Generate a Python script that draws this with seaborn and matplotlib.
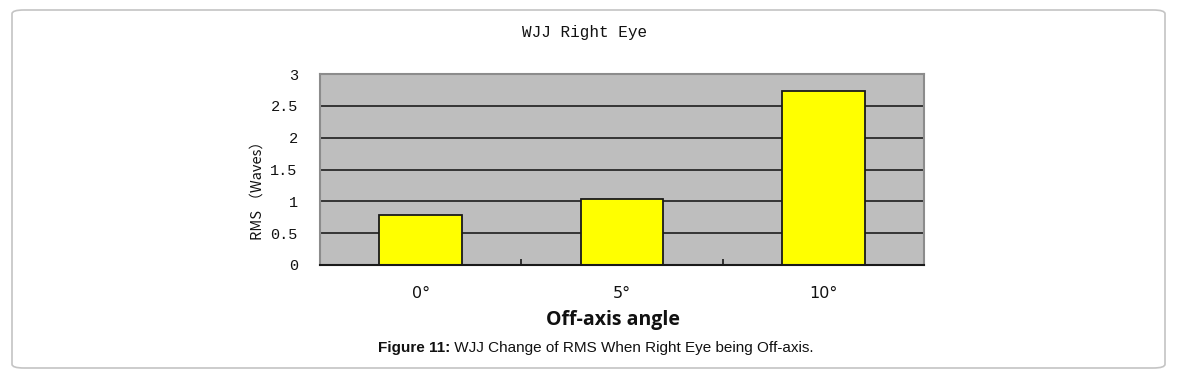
import pandas as pd
import seaborn as sns
import matplotlib.pyplot as plt
from matplotlib.patches import FancyBboxPatch

# data
angles = ['0°', '5°', '10°']
rms = [0.79, 1.04, 2.73]
y_ticks = [0, 0.5, 1, 1.5, 2, 2.5, 3]
y_tick_labels = ['0', '0.5', '1', '1.5', '2', '2.5', '3']

df = pd.DataFrame({'angle': angles, 'rms': rms})

sns.set_style('white')
plt.rcParams['font.family'] = ['Liberation Sans', 'Noto Sans CJK SC', 'DejaVu Sans']
plt.rcParams['text.color'] = '#111111'
plt.rcParams['xtick.color'] = '#111111'
plt.rcParams['ytick.color'] = '#111111'
plt.rcParams['axes.labelcolor'] = '#111111'

fig = plt.figure(figsize=(11.81, 3.78), dpi=100)

# rounded frame round the whole figure
frame = FancyBboxPatch((12 / 1181, 10 / 378), 1153 / 1181, 358 / 378,
                       boxstyle='round,pad=0,rounding_size=0.01',
                       transform=fig.transFigure, facecolor='none',
                       edgecolor='#c4c4c4', lw=1.2, zorder=-1)
fig.patches.append(frame)

ax = fig.add_axes([320 / 1181, 1 - 265 / 378, 604 / 1181, 191 / 378])
ax.set_facecolor('#bebebe')

sns.barplot(data=df, x='angle', y='rms', order=angles, color='#ffff00',
            edgecolor='#1a1a1a', linewidth=1.3, width=0.41, saturation=1, ax=ax)

ax.set_xlim(-0.5, 2.5)
ax.set_ylim(0, 3)
ax.set_yticks(y_ticks)
ax.set_yticklabels(y_tick_labels, family='Liberation Mono', fontsize=11)
ax.tick_params(axis='y', length=0, pad=16)

# horizontal gridlines (not at 0 and 3)
ax.set_axisbelow(True)
ax.yaxis.grid(True, color='#2a2a2a', lw=1.3)
gl = ax.yaxis.get_gridlines()
gl[0].set_visible(False)
gl[-1].set_visible(False)

# category boundary ticks on x-axis
ax.set_xticks([-0.5, 0.5, 1.5, 2.5], minor=True)
ax.tick_params(axis='x', which='minor', direction='in', length=4, width=1.2,
               color='#1a1a1a', bottom=True)
ax.tick_params(axis='x', which='major', length=0, pad=15, labelsize=11.5)
for lab in ax.get_xticklabels():
    lab.set_family('Liberation Sans Narrow')

for side in ['top', 'right', 'left']:
    ax.spines[side].set_color('#8c8c8c')
    ax.spines[side].set_linewidth(1.5)
ax.spines['bottom'].set_color('#1a1a1a')
ax.spines['bottom'].set_linewidth(1.5)

ax.set_xlabel('')
ax.set_ylabel('RMS （Waves）', family=['Noto Sans CJK SC', 'DejaVu Sans'],
              fontsize=10.5, labelpad=3)
ax.yaxis.set_label_coords(-0.092, 0.41)

fig.text(585 / 1181, 1 - 33 / 378, 'WJJ Right Eye', family='Liberation Mono',
         fontsize=11.5, ha='center', va='center')
fig.text(613 / 1181, 1 - 320 / 378, 'Off-axis angle', fontsize=14,
         fontweight='bold', ha='center', va='center', family='Open Sans')

t1 = fig.text(378 / 1181, 1 - 348 / 378, 'Figure 11:', fontsize=11,
              fontweight='bold', ha='left', va='center')
ax.annotate(' WJJ Change of RMS When Right Eye being Off-axis.', xy=(1, 0.5),
            xycoords=t1, va='center', ha='left', fontsize=11,
            annotation_clip=False)

fig.savefig('out.png', dpi=100)
